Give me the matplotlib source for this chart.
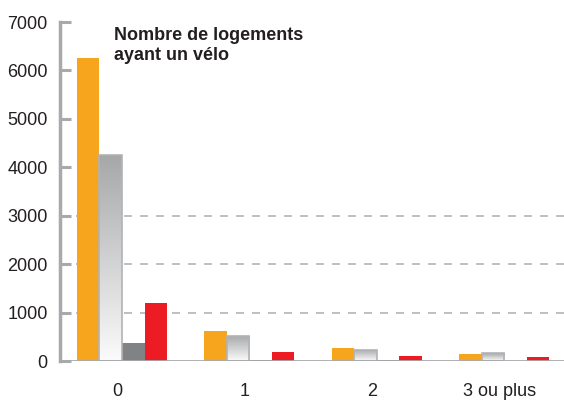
import matplotlib
matplotlib.use("Agg")
import matplotlib.pyplot as plt
import numpy as np

# Nombre de logements selon le nombre de vélos
categories = ["0", "1", "2", "3 ou plus"]
serie_orange = [6260, 620, 270, 150]
serie_grise = [4250, 520, 230, 160]
serie_fonce = [370, 25, 12, 8]
serie_rouge = [1200, 190, 100, 85]
yticks = [0, 1000, 2000, 3000, 4000, 5000, 6000, 7000]
titre = "Nombre de logements\nayant un vélo"

plt.rcParams["font.family"] = ["Liberation Sans Narrow", "Liberation Sans", "DejaVu Sans"]

fig = plt.figure(figsize=(5.64, 4.03), dpi=100)
ax = fig.add_axes([0.1064, 0.1042, 0.8936, 0.8412])

x = np.arange(len(categories))
w = 0.177
axis_grey = "#a7a9ac"

ax.bar(x - 1.5 * w, serie_orange, w, color="#f7a51c", zorder=3)
ax.bar(x + 0.5 * w, serie_fonce, w, color="#818284", zorder=3)
ax.bar(x + 1.5 * w, serie_rouge, w, color="#ed1c24", zorder=3)

# gradient bars
grey_bars = ax.bar(x - 0.5 * w, serie_grise, w, facecolor="none",
                   edgecolor="#b2b3b5", linewidth=1.2, zorder=4)
grad = np.linspace(0, 1, 256).reshape(-1, 1)
cmap = matplotlib.colors.LinearSegmentedColormap.from_list("g", ["#fbfbfb", "#a6a7a9"])
for b in grey_bars:
    bx, by = b.get_x(), b.get_y()
    bw, bh = b.get_width(), b.get_height()
    im = ax.imshow(grad, extent=[bx, bx + bw, by, by + bh], origin="lower",
                   cmap=cmap, aspect="auto", zorder=3.5)
    im.set_clip_path(b)

ax.set_xlim(-0.487, 3.47)
ax.set_ylim(0, 7000)

for y in [1000, 2000, 3000]:
    ax.axhline(y, color="#b3b4b6", lw=1.2, dashes=(4.8, 4.8), zorder=1)
ax.axhline(0, color=axis_grey, lw=2.0, zorder=5)

for s in ["top", "right", "bottom"]:
    ax.spines[s].set_visible(False)
ax.spines["left"].set_color(axis_grey)
ax.spines["left"].set_linewidth(2.5)

ax.set_yticks(yticks)
ax.set_yticklabels([str(v) for v in yticks])
ax.tick_params(axis="y", direction="in", length=8, width=2.2, color=axis_grey,
               labelsize=13, labelcolor="#231f20", pad=9)
ax.set_xticks(x - 0.035)
ax.set_xticklabels(categories)
ax.tick_params(axis="x", length=0, labelsize=13, labelcolor="#231f20", pad=16)

ax.text(0.108, 0.985, titre, transform=ax.transAxes, fontsize=13, fontweight="bold",
        color="#231f20", va="top", ha="left", linespacing=1.25)

fig.savefig("out.png", dpi=100)
